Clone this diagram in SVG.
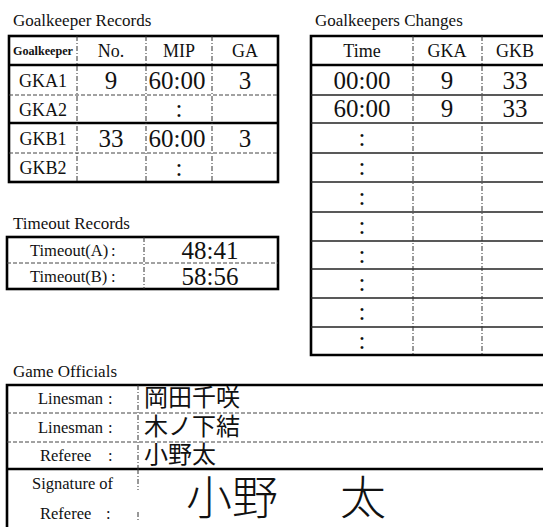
<svg xmlns="http://www.w3.org/2000/svg" width="543" height="527" viewBox="0 0 543 527">
<style>
text{font-family:"Liberation Serif","Times New Roman",serif;fill:#111}
.h{font-size:17px}
.hd{font-size:18px;text-anchor:middle}
.lb{font-size:18px;text-anchor:middle}
.v{font-size:25px;text-anchor:middle}
.sm{font-size:16.5px}
.jp{font-family:"Noto Sans CJK JP","Noto Sans CJK SC",sans-serif;font-size:24px}
.sig{font-family:"Noto Sans CJK JP","Noto Sans CJK SC",sans-serif;font-size:46px;font-weight:200}
.thick{stroke:#000;stroke-width:2.6;fill:none}
.thin{stroke:#222;stroke-width:1.3;fill:none}
.dash{stroke:#444;stroke-width:1;stroke-dasharray:4 2;fill:none}
.vdash{stroke:#333;stroke-width:1;stroke-dasharray:5 2 1 2;fill:none}
</style>
<rect width="543" height="527" fill="#fff"/>

<g id="goalkeeper-records">
<text class="h" x="13" y="26">Goalkeeper Records</text>
<rect class="thick" x="9" y="36" width="269" height="146"/>
<line class="thick" x1="9" y1="65" x2="278" y2="65"/>
<line class="thick" x1="9" y1="123" x2="278" y2="123"/>
<line class="dash" x1="9" y1="95" x2="278" y2="95"/>
<line class="dash" x1="9" y1="153" x2="278" y2="153"/>
<line class="vdash" x1="77" y1="36" x2="77" y2="182"/>
<line class="vdash" x1="146" y1="36" x2="146" y2="182"/>
<line class="vdash" x1="212" y1="36" x2="212" y2="182"/>
<text x="43" y="55" font-size="11.5" font-weight="bold" text-anchor="middle" textLength="60" lengthAdjust="spacingAndGlyphs">Goalkeeper</text>
<text class="hd" x="111" y="57">No.</text>
<text class="hd" x="179" y="57">MIP</text>
<text class="hd" x="245" y="57">GA</text>
<text class="lb" x="43" y="87">GKA1</text>
<text class="v" x="111" y="89">9</text>
<text class="v" x="177" y="89">60:00</text>
<text class="v" x="245" y="89">3</text>
<text class="lb" x="43" y="116">GKA2</text>
<text class="v" x="179" y="117">:</text>
<text class="lb" x="43" y="145">GKB1</text>
<text class="v" x="111" y="147">33</text>
<text class="v" x="177" y="147">60:00</text>
<text class="v" x="245" y="147">3</text>
<text class="lb" x="43" y="174">GKB2</text>
<text class="v" x="179" y="176">:</text>
</g>

<g id="goalkeepers-changes">
<text class="h" x="315" y="26">Goalkeepers Changes</text>
<path class="thick" d="M548,36 H311 V355 H548"/>
<line class="thick" x1="311" y1="65" x2="548" y2="65"/>
<g class="thin">
<line x1="311" y1="95" x2="548" y2="95"/>
<line x1="311" y1="123" x2="548" y2="123"/>
<line x1="311" y1="153" x2="548" y2="153"/>
<line x1="311" y1="182" x2="548" y2="182"/>
<line x1="311" y1="212" x2="548" y2="212"/>
<line x1="311" y1="241" x2="548" y2="241"/>
<line x1="311" y1="269" x2="548" y2="269"/>
<line x1="311" y1="298" x2="548" y2="298"/>
<line x1="311" y1="327" x2="548" y2="327"/>
</g>
<line class="vdash" x1="413" y1="36" x2="413" y2="355"/>
<line class="vdash" x1="482" y1="36" x2="482" y2="355"/>
<text class="hd" x="362" y="57">Time</text>
<text class="hd" x="447" y="57">GKA</text>
<text class="hd" x="515" y="57">GKB</text>
<text class="v" x="362" y="89" font-size="26">00:00</text>
<text class="v" x="447" y="89" font-size="26">9</text>
<text class="v" x="515" y="89" font-size="26">33</text>
<text class="v" x="362" y="117" font-size="26">60:00</text>
<text class="v" x="447" y="117" font-size="26">9</text>
<text class="v" x="515" y="117" font-size="26">33</text>
<text class="v" x="362" y="146">:</text>
<text class="v" x="362" y="175">:</text>
<text class="v" x="362" y="205">:</text>
<text class="v" x="362" y="234">:</text>
<text class="v" x="362" y="263">:</text>
<text class="v" x="362" y="291">:</text>
<text class="v" x="362" y="320">:</text>
<text class="v" x="362" y="349">:</text>
</g>

<g id="timeout-records">
<text class="h" x="13" y="229">Timeout Records</text>
<rect class="thick" x="7" y="237" width="271" height="52"/>
<line class="dash" x1="7" y1="263" x2="278" y2="263"/>
<line class="vdash" x1="144" y1="237" x2="144" y2="289"/>
<text class="sm" x="30" y="256">Timeout(A)</text>
<text class="sm" x="111" y="256">:</text>
<text class="v" x="210" y="259">48:41</text>
<text class="sm" x="30" y="282">Timeout(B)</text>
<text class="sm" x="111" y="282">:</text>
<text class="v" x="210" y="285">58:56</text>
</g>

<g id="game-officials">
<text class="h" x="13" y="377">Game Officials</text>
<path class="thick" d="M548,385 H7 V540"/>
<line class="thick" x1="7" y1="469" x2="548" y2="469"/>
<line class="dash" x1="7" y1="413" x2="548" y2="413"/>
<line class="dash" x1="7" y1="442" x2="548" y2="442"/>
<line class="vdash" x1="138" y1="385" x2="138" y2="469"/>
<line class="vdash" x1="138" y1="469" x2="138" y2="490"/>
<line class="vdash" x1="138" y1="512" x2="138" y2="522"/>
<text class="sm" x="38" y="404">Linesman</text>
<text class="sm" x="108" y="404">:</text>
<text class="jp" x="144" y="406">岡田千咲</text>
<text class="sm" x="38" y="433">Linesman</text>
<text class="sm" x="108" y="433">:</text>
<text class="jp" x="144" y="435">木ノ下結</text>
<text class="sm" x="40" y="461">Referee</text>
<text class="sm" x="108" y="461">:</text>
<text class="jp" x="144" y="463">小野太</text>
<text class="sm" x="32" y="489">Signature of</text>
<text class="sm" x="40" y="519">Referee</text>
<text class="sm" x="106" y="519">:</text>
<text class="sig" x="186" y="514">小野</text>
<text class="sig" x="340" y="514">太</text>
</g>
</svg>
